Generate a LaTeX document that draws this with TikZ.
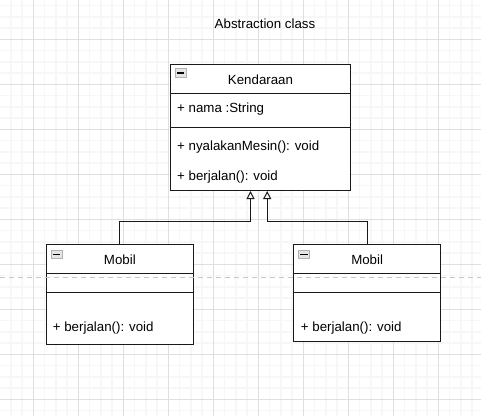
\documentclass[tikz,border=0pt]{standalone}
\usepackage{fontspec}
\setmainfont{Liberation Sans}
\usetikzlibrary{arrows.meta}
\tikzset{classbox/.style={draw=black!90, line width=1pt, fill=white, rectangle, anchor=north west, inner sep=0pt, minimum width=146.7pt}}
\tikzset{member/.style={anchor=base west, inner sep=0pt, font=\fontsize{13.3}{16}\selectfont}}
\tikzset{collapsebtn/.style={draw=gray!60, fill=gray!20, line width=0.8pt, anchor=north west, inner sep=0pt, minimum width=10.5pt, minimum height=8.5pt}}
\tikzset{divider/.style={draw=black!90, line width=1pt}}
\tikzset{inherit/.style={draw=black!90, line width=1pt, -{Triangle[open, fill=white, width=8pt, length=8pt]}}}

\begin{document}
\begin{tikzpicture}[x=1pt, y=-1pt]
				\useasboundingbox (0,0) rectangle (481,416);
				\fill[white] (0,0) rectangle (481,416);
				%
				\foreach \i in {0,...,42} \draw[gray!6, line width=1.5pt] ({-0.45+11.25*\i},0) -- ++(0,416);
				\foreach \j in {0,...,36} \draw[gray!6, line width=1.5pt] (0,{5.55+11.25*\j}) -- ++(481,0);
				\foreach \i in {0,...,9} \draw[gray!25, line width=1pt] ({33.3+45*\i},0) -- ++(0,416);
				\foreach \j in {0,...,8} \draw[gray!25, line width=1pt] (0,{39.3+45*\j}) -- ++(481,0);
				%
				\node[member, anchor=base] (title) at (265,28.3) {Abstraction class};
				%
				\node[classbox, minimum width=180pt, minimum height=125.7pt] (kendaraan) at (170,64.3) {};
				\draw[divider] ([shift={(0,29.2)}]kendaraan.north west) -- ([shift={(0,29.2)}]kendaraan.north east);
				\draw[divider] ([shift={(0,62.7)}]kendaraan.north west) -- ([shift={(0,62.7)}]kendaraan.north east);
				\node[collapsebtn] (kendbtn) at ([shift={(5,4)}]kendaraan.north west) {};
				\draw[line width=1.3pt] ([shift={(2,0)}]kendbtn.west) -- ([shift={(-2,0)}]kendbtn.east);
				\node[member, anchor=base] (kendname) at ([shift={(0,19.7)}]kendaraan.north) {Kendaraan};
				\node[member] (nama) at ([shift={(7,48)}]kendaraan.north west) {+ nama :String};
				\node[member] (mesin) at ([shift={(7,85.7)}]kendaraan.north west) {+ nyalakanMesin(): void};
				\node[member] (jalan) at ([shift={(7,115.7)}]kendaraan.north west) {+ berjalan(): void};
				%
				\node[classbox, minimum height=100pt] (mobilL) at (46,244.3) {};
				\draw[divider] ([shift={(0,29.4)}]mobilL.north west) -- ([shift={(0,29.4)}]mobilL.north east);
				\draw[divider] ([shift={(0,48)}]mobilL.north west) -- ([shift={(0,48)}]mobilL.north east);
				\node[collapsebtn] (mobilLbtn) at ([shift={(5,5.5)}]mobilL.north west) {};
				\draw[line width=1.3pt] ([shift={(2,0)}]mobilLbtn.west) -- ([shift={(-2,0)}]mobilLbtn.east);
				\node[member, anchor=base] (mobilLname) at ([shift={(0,19.7)}]mobilL.north) {Mobil};
				\node[member] (jalanL) at ([shift={(6.7,87.4)}]mobilL.north west) {+ berjalan(): void};
				%
				\node[classbox, minimum height=96.5pt] (mobilR) at (293.3,244.3) {};
				\draw[divider] ([shift={(0,29.4)}]mobilR.north west) -- ([shift={(0,29.4)}]mobilR.north east);
				\draw[divider] ([shift={(0,48)}]mobilR.north west) -- ([shift={(0,48)}]mobilR.north east);
				\node[collapsebtn] (mobilRbtn) at ([shift={(5,5.5)}]mobilR.north west) {};
				\draw[line width=1.3pt] ([shift={(2,0)}]mobilRbtn.west) -- ([shift={(-2,0)}]mobilRbtn.east);
				\node[member, anchor=base] (mobilRname) at ([shift={(0,19.7)}]mobilR.north) {Mobil};
				\node[member] (jalanR) at ([shift={(7.4,87.4)}]mobilR.north west) {+ berjalan(): void};
				%
				\draw[inherit] (mobilL.north) -- ++(0,-22.5) -| ([shift={(-10,0)}]kendaraan.south);
				\draw[inherit] (mobilR.north) -- ++(0,-22.5) -| ([shift={(6.7,0)}]kendaraan.south);
				%
				\draw[gray!45, line width=1pt, dash pattern=on 5pt off 4pt] (0,277) -- (481,277);
			\end{tikzpicture}
\end{document}
